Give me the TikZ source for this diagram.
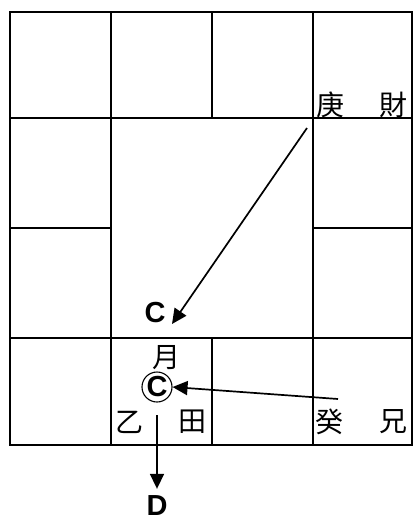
\documentclass[tikz,border=0pt]{standalone}
\usepackage{fontspec}
\setmainfont{Liberation Sans}
\newfontfamily\cjk{Noto Sans CJK SC}
\usetikzlibrary{arrows.meta, positioning}

\begin{document}
\begin{tikzpicture}[
  x=1pt, y=-1pt,
  grid/.style={line width=2.4pt, line cap=rect},
  hz/.style={inner sep=0pt, font=\cjk\fontsize{28}{30}\selectfont},
  lbl/.style={inner sep=0pt, font=\fontsize{29}{31}\selectfont\bfseries},
  ring/.style={draw, circle, line width=1.1pt, minimum size=30pt, inner sep=0pt,
               font=\fontsize{29}{31}\selectfont\bfseries},
  arr/.style={-{Triangle[length=15pt,width=14pt]}, line width=1.7pt}
]
  \useasboundingbox (0,0) rectangle (414,520);

  % Grid
  \draw[grid] (10,12) rectangle (412,445);
  \draw[grid] (10,118) -- (412,118);
  \draw[grid] (10,338) -- (412,338);
  \draw[grid] (10,228) -- (111,228);
  \draw[grid] (313,228) -- (412,228);
  \draw[grid] (111,12) -- (111,445);
  \draw[grid] (313,12) -- (313,445);
  \draw[grid] (212,12) -- (212,118);
  \draw[grid] (212,338) -- (212,445);

  % Top right cell
  \node[hz] (geng) at (330,105) {庚};
  \node[hz] (cai) at (393,105) {財};

  % Bottom row
  \node[lbl] (cup) at (155,313) {C};
  \node[hz] (yue) at (166,358) {月};
  \node[ring] (cring) at (157,387) {C};
  \node[hz] (yi) at (129,422) {乙};
  \node[hz] (tian) at (192,422) {田};
  \node[hz] (gui) at (329,422) {癸};
  \node[hz] (xiong) at (393,422) {兄};
  \node[lbl] (dlow) at (157,506) {D};

  % Arrows
  \coordinate (gengtail) at (307,128);
  \coordinate (cuptip) at (172,324);
  \coordinate (guitail) at (338,399);
  \coordinate (ringtail) at (157,415);
  \draw[arr] (gengtail) -- (cuptip);
  \draw[arr] (guitail) -- (cring.east);
  \draw[arr] (ringtail) -- ([yshift=7pt]dlow.north);
\end{tikzpicture}
\end{document}
